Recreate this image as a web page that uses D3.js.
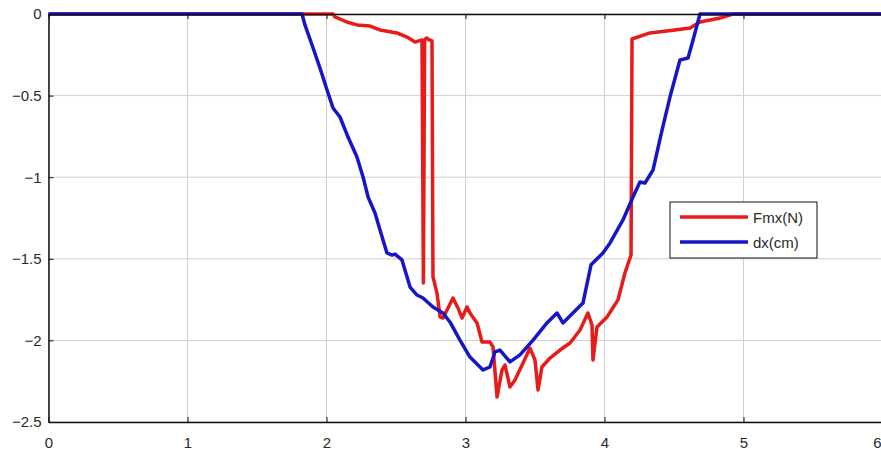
<!DOCTYPE html>
<html>
<head>
<meta charset="utf-8">
<script src="https://cdn.jsdelivr.net/npm/d3@7"></script>
<style>
  html, body { margin: 0; padding: 0; background: #fff; }
  svg { display: block; }
  text { font-family: "Liberation Sans", Arial, sans-serif; }
</style>
</head>
<body>
<svg id="chart" width="881" height="456"></svg>
<script>
// Time axis (s) and tick labels
const xTicks = [0, 1, 2, 3, 4, 5, 6];
const yTicks = [0, -0.5, -1, -1.5, -2, -2.5];
const seriesNames = ["Fmx(N)", "dx(cm)"];

// Fmx(N): force signal
const fmxX = [0, 2.047, 2.061, 2.147, 2.219, 2.313, 2.385, 2.507, 2.579, 2.637, 2.687,
  2.697, 2.706, 2.719, 2.741, 2.759, 2.766, 2.795, 2.817, 2.838, 2.867, 2.910, 2.946,
  2.975, 3.011, 3.032, 3.083, 3.119, 3.176, 3.198, 3.227, 3.263, 3.284, 3.320, 3.356,
  3.414, 3.464, 3.500, 3.522, 3.550, 3.608, 3.680, 3.752, 3.824, 3.881, 3.910, 3.917,
  3.946, 4.018, 4.097, 4.147, 4.191, 4.198, 4.327, 4.507, 4.615, 4.687, 4.831, 4.925, 6];
const fmxY = [0, 0, -0.018, -0.049, -0.067, -0.074, -0.098, -0.116, -0.141, -0.172, -0.159,
  -1.648, -0.160, -0.147, -0.159, -0.165, -1.611, -1.710, -1.857, -1.863, -1.814, -1.740, -1.801,
  -1.863, -1.795, -1.832, -1.893, -2.010, -2.010, -2.040, -2.347, -2.181, -2.151, -2.286, -2.243,
  -2.138, -2.047, -2.120, -2.304, -2.163, -2.108, -2.059, -2.016, -1.936, -1.832, -1.906, -2.120,
  -1.918, -1.857, -1.752, -1.587, -1.477, -0.153, -0.116, -0.098, -0.086, -0.049, -0.025, 0, 0];

// dx(cm): displacement signal
const dxX = [0, 1.824, 1.845, 1.896, 1.953, 2.004, 2.047, 2.097, 2.155, 2.219, 2.263, 2.299,
  2.349, 2.385, 2.435, 2.471, 2.493, 2.543, 2.601, 2.651, 2.694, 2.766, 2.838, 2.888, 2.960,
  3.032, 3.126, 3.176, 3.212, 3.248, 3.320, 3.392, 3.486, 3.586, 3.658, 3.701, 3.773, 3.845,
  3.903, 3.989, 4.040, 4.133, 4.205, 4.255, 4.291, 4.349, 4.414, 4.471, 4.543, 4.601, 4.637,
  4.687, 6];
const dxY = [0, 0, -0.067, -0.190, -0.331, -0.466, -0.576, -0.631, -0.754, -0.876, -0.999, -1.121,
  -1.219, -1.324, -1.464, -1.477, -1.471, -1.507, -1.673, -1.722, -1.740, -1.795, -1.832, -1.887, -1.998,
  -2.102, -2.181, -2.163, -2.071, -2.059, -2.132, -2.089, -1.998, -1.893, -1.832, -1.893, -1.832, -1.771,
  -1.537, -1.464, -1.403, -1.262, -1.121, -1.029, -1.036, -0.956, -0.711, -0.509, -0.282, -0.270, -0.159,
  0, 0];

const W = 881;
const svg = d3.select("#chart");
const x = d3.scaleLinear().domain([0, 6]).range([48.5, 882.5]);
const y = d3.scaleLinear().domain([-2.5, 0]).range([422, 14]);
const fmt = d => d3.format("")(d);

// grid
const grid = svg.append("g").attr("stroke", "#cfcfcf").attr("stroke-width", 1);
grid.selectAll("line.gx").data(xTicks).join("line")
  .attr("x1", d => x(d)).attr("x2", d => x(d))
  .attr("y1", y(0)).attr("y2", y(-2.5));
grid.selectAll("line.gy").data(yTicks).join("line")
  .attr("x1", x(0)).attr("x2", x(6))
  .attr("y1", d => y(d)).attr("y2", d => y(d));

// series
const line = d3.line().x(d => x(d[0])).y(d => y(d[1]));
const fmx = fmxX.map((v, i) => [v, fmxY[i]]);
const dx = dxX.map((v, i) => [v, dxY[i]]);
svg.append("path").datum(fmx).attr("d", line)
  .attr("fill", "none").attr("stroke", "#e81b1b").attr("stroke-width", 3.5)
  .attr("stroke-linejoin", "round");
svg.append("path").datum(dx).attr("d", line)
  .attr("fill", "none").attr("stroke", "#1616c8").attr("stroke-width", 3.5)
  .attr("stroke-linejoin", "round");

// axes (ticks pointing inward, box on all sides)
const styleAxis = g => {
  g.select(".domain").attr("stroke", "#111").attr("stroke-width", 1.5);
  g.selectAll(".tick line").attr("stroke", "#111");
  g.selectAll(".tick text").attr("fill", "#2a2a2a").style("font-size", "15px");
};
const xAxisG = svg.append("g").attr("transform", `translate(0,${y(-2.5)})`)
  .call(d3.axisBottom(x).tickValues(xTicks).tickFormat(fmt).tickSizeInner(-5).tickSizeOuter(0).tickPadding(15))
  .call(styleAxis);
// keep the last label inside the page edge
xAxisG.selectAll(".tick text")
  .filter(d => x(d) + 5 > W)
  .attr("text-anchor", "end")
  .attr("x", d => W - x(d));
svg.append("g").attr("transform", `translate(${x(0)},0)`)
  .call(d3.axisLeft(y).tickValues(yTicks).tickFormat(fmt).tickSizeInner(-5).tickSizeOuter(0).tickPadding(7))
  .call(styleAxis);
svg.append("g").attr("transform", `translate(0,${y(0)})`)
  .call(d3.axisTop(x).tickValues(xTicks).tickFormat("").tickSizeInner(-5).tickSizeOuter(0))
  .call(styleAxis);

// legend
const lg = svg.append("g").attr("transform", "translate(670,202)");
lg.append("rect").attr("width", 147).attr("height", 56)
  .attr("fill", "#fff").attr("stroke", "#111").attr("stroke-width", 1);
const colors = ["#e81b1b", "#1616c8"];
seriesNames.forEach((name, i) => {
  const yy = 15 + i * 25;
  lg.append("line").attr("x1", 10).attr("x2", 78).attr("y1", yy).attr("y2", yy)
    .attr("stroke", colors[i]).attr("stroke-width", 3.5);
  lg.append("text").attr("x", 83).attr("y", yy + 6).text(name)
    .style("font-size", "15px").attr("fill", "#2a2a2a");
});
</script>
</body>
</html>
